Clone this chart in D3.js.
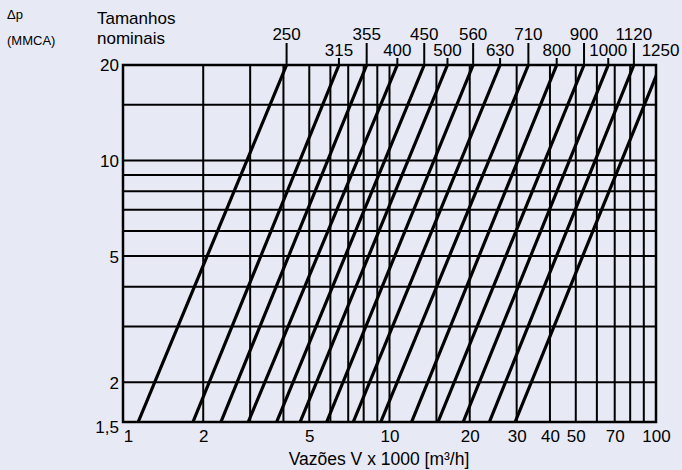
<!DOCTYPE html>
<html>
<head>
<meta charset="utf-8">
<script src="https://cdn.jsdelivr.net/npm/d3@7"></script>
<style>
  body { margin: 0; background: #e7e9f4; }
  svg { display: block; font-family: 'Liberation Sans', Arial, sans-serif; }
</style>
</head>
<body>
<svg width="682" height="470"></svg>
<script>
// nominal sizes and the flow (x1000 m3/h) where each line crosses 1,5 and 20 mmCA
const sizes = [250, 315, 355, 400, 450, 500, 560, 630, 710, 800, 900, 1000, 1120, 1250];
const flowAtBottom = [1.14, 1.83, 2.33, 2.95, 3.77, 4.62, 5.81, 7.31, 9.27, 12.1, 15.2, 18.9, 23.7, 29.6];
const flowAtTop = [4.11, 6.46, 8.21, 10.7, 13.5, 16.5, 20.6, 26.0, 33.2, 42.4, 53.7, 66.2, 82.6, 104];

const xGrid = [1, 2, 3, 4, 5, 6, 7, 8, 9, 10, 15, 20, 30, 40, 50, 60, 70, 80, 90, 100];
const yGrid = [1.5, 2, 3, 4, 5, 6, 7, 8, 9, 10, 15, 20];
const xTicks = [1, 2, 5, 10, 20, 30, 40, 50, 70, 100];
const yTicks = [1.5, 2, 5, 10, 20];

const pMin = 1.5, pMax = 20;

const renderChart = () => {
  const svg = d3.select('svg');
  const margin = { top: 65, right: 26, bottom: 48, left: 123 };
  const width = +svg.attr('width') - margin.left - margin.right;
  const height = +svg.attr('height') - margin.top - margin.bottom;

  const xScale = d3.scaleLog().domain([1, 100]).range([0, width]);
  const yScale = d3.scaleLog().domain([pMin, pMax]).range([height, 0]);

  const g = svg.append('g')
    .attr('transform', `translate(${margin.left}, ${margin.top})`);

  g.append('clipPath')
    .attr('id', 'plot-clip')
    .append('rect')
      .attr('width', width)
      .attr('height', height);

  // grid
  g.append('g').selectAll('line')
    .data(xGrid)
    .enter().append('line')
      .attr('x1', d => xScale(d)).attr('x2', d => xScale(d))
      .attr('y1', 0).attr('y2', height)
      .attr('stroke', '#000').attr('stroke-width', 2);
  g.append('g').selectAll('line')
    .data(yGrid)
    .enter().append('line')
      .attr('x1', 0).attr('x2', width)
      .attr('y1', d => yScale(d)).attr('y2', d => yScale(d))
      .attr('stroke', '#000').attr('stroke-width', 2);

  // characteristic lines
  const lineData = sizes.map((s, i) => ({
    size: s,
    points: [{ v: flowAtBottom[i], p: pMin }, { v: flowAtTop[i], p: pMax }],
    top: flowAtTop[i]
  }));
  const line = d3.line().x(d => xScale(d.v)).y(d => yScale(d.p));
  g.append('g')
    .attr('clip-path', 'url(#plot-clip)')
    .selectAll('path')
    .data(lineData)
    .enter().append('path')
      .attr('d', d => line(d.points))
      .attr('fill', 'none')
      .attr('stroke', '#000')
      .attr('stroke-width', 3.2);

  // size labels above plot, alternating rows
  const labels = g.append('g');
  lineData.forEach((d, i) => {
    const x = xScale(d.top);
    const upper = i % 2 === 0;
    if (d.top <= 100) {
      labels.append('line')
        .attr('x1', x).attr('x2', x)
        .attr('y1', 0).attr('y2', upper ? -22 : -7)
        .attr('stroke', '#000').attr('stroke-width', 2);
    }
    labels.append('text')
      .attr('x', x)
      .attr('y', upper ? -25 : -9)
      .attr('text-anchor', 'middle')
      .attr('font-size', 17)
      .text(d.size);
  });

  // axes
  const xAxis = d3.axisBottom(xScale)
    .tickValues(xTicks)
    .tickFormat(d3.format('d'))
    .tickSize(0)
    .tickPadding(8);
  const xAxisGroup = g.append('g')
    .attr('transform', `translate(0, ${height})`)
    .call(xAxis);
  xAxisGroup.select('.domain').remove();
  xAxisGroup.selectAll('text')
    .attr('font-size', 17)
    .attr('font-family', null)
    .attr('fill', '#000')
    .attr('dx', d => d === 1 ? 5 : 0);

  const yAxis = d3.axisLeft(yScale)
    .tickValues(yTicks)
    .tickFormat(d => String(d).replace('.', ','))
    .tickSize(0)
    .tickPadding(4);
  const yAxisGroup = g.append('g').call(yAxis);
  yAxisGroup.select('.domain').remove();
  yAxisGroup.selectAll('text')
    .attr('font-size', 17)
    .attr('font-family', null)
    .attr('fill', '#000')
    .attr('dy', d => d === 1.5 ? '0.6em' : '0.35em');

  // frame
  g.append('rect')
    .attr('width', width).attr('height', height)
    .attr('fill', 'none')
    .attr('stroke', '#000').attr('stroke-width', 2.5);

  // titles
  svg.append('text').attr('x', 7).attr('y', 19).attr('font-size', 13).text('Δp');
  svg.append('text').attr('x', 7).attr('y', 45).attr('font-size', 13).text('(MMCA)');
  svg.append('text').attr('x', 97).attr('y', 24).attr('font-size', 17).text('Tamanhos');
  svg.append('text').attr('x', 97).attr('y', 44).attr('font-size', 17).text('nominais');
  svg.append('text')
    .attr('x', 379)
    .attr('y', 465)
    .attr('text-anchor', 'middle')
    .attr('font-size', 17.5)
    .text('Vazões V x 1000 [m³/h]');
};

renderChart();
</script>
</body>
</html>
